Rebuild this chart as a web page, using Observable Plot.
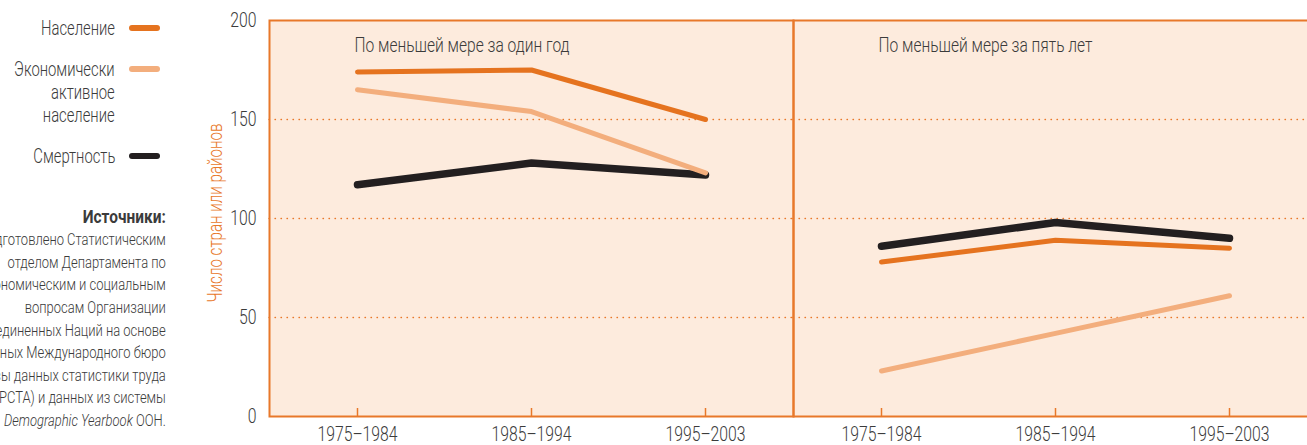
<!DOCTYPE html>
<html><head><meta charset="utf-8">
<script src="https://cdn.jsdelivr.net/npm/d3@7"></script>
<script src="https://cdn.jsdelivr.net/npm/@observablehq/plot@0.6"></script>
<style>
html,body{margin:0;padding:0;background:#fff;overflow:hidden;width:1307px;height:445px}
#wrap{position:relative;width:1307px;height:445px;overflow:hidden;font-family:Roboto,"Liberation Sans",sans-serif;font-weight:300;color:#3b3b3b}
#chart{position:absolute;left:0;top:0}
#chart svg{max-width:none}
.legtext{position:absolute;right:1192px;white-space:nowrap;text-align:right;font-size:21px;line-height:23px;transform-origin:right center}
.sw{position:absolute;left:129px;width:31px;height:6px;border-radius:3px}
#src{position:absolute;right:1141px;white-space:nowrap;text-align:right;font-size:17px;line-height:22.6px;transform-origin:right center}
#src b{font-weight:700;font-size:18px;display:inline-block;transform-origin:right center}
.meas{position:absolute;visibility:hidden;white-space:nowrap;left:0;top:0}
</style></head>
<body><div id="wrap"><div id="chart"></div></div>
<script>
const panels = ["По меньшей мере за один год", "По меньшей мере за пять лет"];
const periods = ["1975–1984", "1985–1994", "1995–2003"];
const seriesNames = ["Население", "Экономически активное население", "Смертность"];
const legendLabels = [["Население"], ["Экономически", "активное", "население"], ["Смертность"]];
// Panel 1: at least one year
const population1 = [174, 175, 150];
const active1 = [165, 154, 123];
const mortality1 = [117, 128, 122];
// Panel 2: at least five years
const population5 = [78, 89, 85];
const active5 = [23, 42, 61];
const mortality5 = [86, 98, 90];
const yTicks = [0, 50, 100, 150, 200];
const yLabel = "Число стран или районов";
const sourceTitle = "Источники:";
const sourceLines = [
  "Подготовлено Статистическим",
  "отделом Департамента по",
  "экономическим и социальным",
  "вопросам Организации",
  "Объединенных Наций на основе",
  "данных Международного бюро",
  "труда (базы данных статистики труда",
  "ЛАБОРСТА) и данных из системы",
  "<i>Demographic Yearbook</i> ООН."
];

const colors = ["#e5731f", "#f3ae7d", "#231f20"];
const widths = [5, 5, 7.5];
const orange = "#e8782a";
const textColor = "#3b3b3b";

const seriesByPanel = [[population1, active1, mortality1], [population5, active5, mortality5]];
const rows = [];
panels.forEach((p, pi) => {
  seriesNames.forEach((s, si) => {
    periods.forEach((per, k) => {
      rows.push({panel: p, series: s, period: per, value: seriesByPanel[pi][si][k]});
    });
  });
});

const drawOrder = [2, 0, 1];
const lineMarks = drawOrder.map(si => Plot.line(rows.filter(r => r.series === seriesNames[si]), {
  fx: "panel", x: "period", y: "value", z: "panel",
  stroke: colors[si], strokeWidth: widths[si], strokeLinecap: "round", strokeLinejoin: "round"
}));

const chart = Plot.plot({
  width: 1317, height: 445,
  marginLeft: 269, marginRight: 0, marginTop: 20, marginBottom: 29,
  style: {fontFamily: 'Roboto,"Liberation Sans",sans-serif', fontWeight: 300, fontSize: "21px", color: textColor, background: "transparent", overflow: "visible", maxWidth: "none"},
  fx: {domain: panels, padding: 0, axis: null, label: null},
  x: {domain: periods, type: "point", padding: 0.5, label: null},
  y: {domain: [0, 200], label: null},
  marks: [
    Plot.frame({fill: "#fdebdd", stroke: null}),
    Plot.gridY(yTicks.slice(1, -1), {stroke: orange, strokeOpacity: 1, strokeWidth: 1.3, strokeDasharray: "0.5,5.5", strokeLinecap: "round"}),
    Plot.frame({stroke: orange, strokeWidth: 2}),
    Plot.axisY(yTicks, {tickSize: 0, tickPadding: 13, fontSize: 21, fill: textColor, label: null}),
    Plot.axisX({tickSize: -8, tickPadding: 18, stroke: orange, strokeWidth: 1.5, fontSize: 21, fill: textColor, label: null}),
    Plot.text([yLabel], {fx: () => panels[0], text: d => d, frameAnchor: "bottom-left", rotate: -90, textAnchor: "start", lineAnchor: "middle", dx: -54, dy: -114, fontSize: 21, fill: orange}),
    Plot.text(panels, {fx: d => d, x: () => periods[0], text: d => d, frameAnchor: "top", lineAnchor: "middle", textAnchor: "start", dx: -3, dy: 25, fontSize: 21, fill: textColor}),
    ...lineMarks
  ]
});
document.getElementById("chart").appendChild(chart);

// Condense text horizontally: the original uses a condensed typeface.
// Widths (px) of a few reference strings as measured on the original picture.
const texts = Array.from(chart.querySelectorAll("text"));
const lenOf = s => { const t = texts.find(e => e.textContent === s); return t ? t.getComputedTextLength() : 0; };
const kTitle = 215 / lenOf(panels[0]);
const kLabel = 179 / lenOf(yLabel);
const kTick = 80 / lenOf(periods[0]);
texts.forEach(t => {
  const s = t.textContent;
  const k = panels.includes(s) ? kTitle : s === yLabel ? kLabel : kTick;
  const L = t.getComputedTextLength();
  if (L > 0 && isFinite(k)) {
    t.setAttribute("textLength", L * k);
    t.setAttribute("lengthAdjust", "spacingAndGlyphs");
  }
});

const wrap = document.getElementById("wrap");
function htmlWidth(html, css) {
  const m = document.createElement("span");
  m.className = "meas";
  m.style.cssText += css;
  m.innerHTML = html;
  wrap.appendChild(m);
  const w = m.getBoundingClientRect().width;
  m.remove();
  return w;
}

// Legend (left, HTML)
const kLeg = 74 / htmlWidth(legendLabels[0][0], "font-size:21px;font-weight:300");
const legTops = [28, 69, 156];
legendLabels.forEach((lines, i) => {
  const t = document.createElement("div");
  t.className = "legtext";
  t.style.top = (legTops[i] - 11.5) + "px";
  t.style.transform = `scaleX(${kLeg})`;
  t.innerHTML = lines.join("<br>");
  wrap.appendChild(t);
  const sw = document.createElement("div");
  sw.className = "sw";
  sw.style.top = (legTops[i] - 3) + "px";
  sw.style.background = colors[i];
  wrap.appendChild(sw);
});

// Sources (left, HTML)
const kSrc = 141 / htmlWidth(sourceLines[3], "font-size:17px;font-weight:300");
const kBold = 83 / htmlWidth(sourceTitle, "font-size:18px;font-weight:700");
const src = document.createElement("div");
src.id = "src";
src.style.top = (217 - 11.3) + "px";
src.style.transform = `scaleX(${kSrc})`;
src.innerHTML = `<b style="transform:scaleX(${kBold / kSrc})">` + sourceTitle + "</b><br>" + sourceLines.join("<br>");
wrap.appendChild(src);
</script>
</body></html>
